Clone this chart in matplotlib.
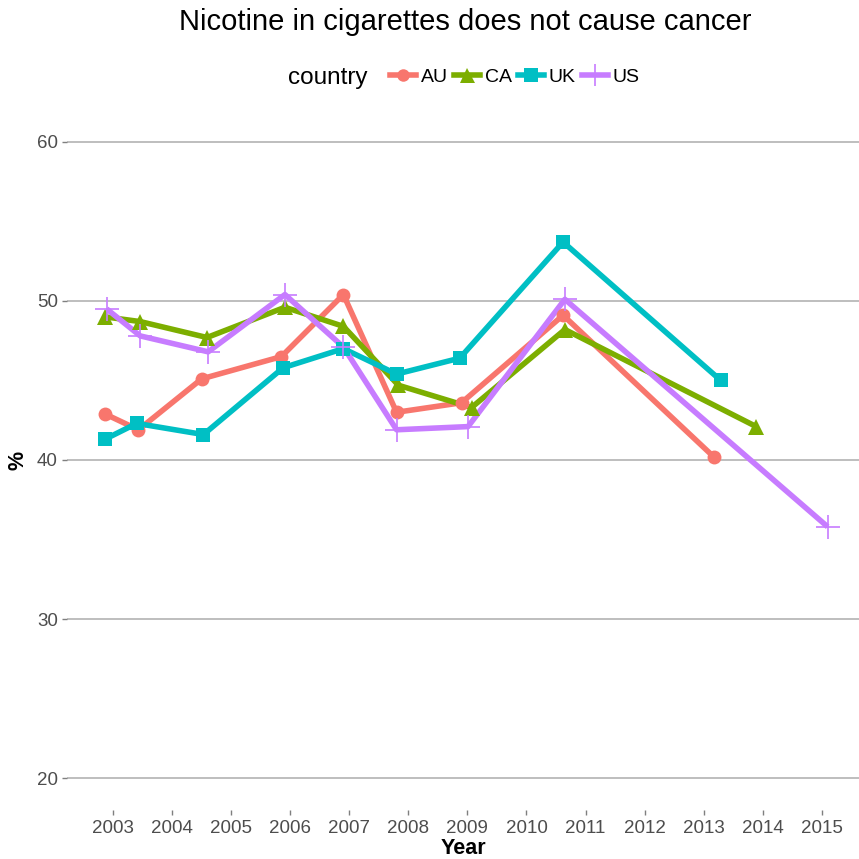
import matplotlib
matplotlib.use("Agg")
import matplotlib.pyplot as plt
from matplotlib.lines import Line2D

plt.rcParams['font.family'] = ['Liberation Sans', 'DejaVu Sans']

countries = ["AU", "CA", "UK", "US"]
colors = ["#F8766D", "#7CAE00", "#00BFC4", "#C77CFF"]
markers = ["o", "^", "s", "+"]
msizes = [10, 12, 10.5, 17]

au_year = [2002.86, 2003.43, 2004.50, 2005.85, 2006.90, 2007.80, 2008.90, 2010.62, 2013.17]
au_val = [42.9, 41.9, 45.1, 46.5, 50.4, 43.0, 43.6, 49.1, 40.2]
ca_year = [2002.86, 2003.46, 2004.59, 2005.91, 2006.90, 2007.83, 2009.07, 2010.65, 2013.89]
ca_val = [49.0, 48.7, 47.7, 49.6, 48.4, 44.7, 43.3, 48.2, 42.1]
uk_year = [2002.86, 2003.40, 2004.53, 2005.88, 2006.90, 2007.80, 2008.87, 2010.62, 2013.29]
uk_val = [41.3, 42.3, 41.6, 45.8, 47.0, 45.4, 46.4, 53.7, 45.0]
us_year = [2002.89, 2003.46, 2004.61, 2005.91, 2006.90, 2007.80, 2009.01, 2010.65, 2015.10]
us_val = [49.5, 47.8, 46.8, 50.4, 47.1, 41.9, 42.1, 50.1, 35.8]

years = [au_year, ca_year, uk_year, us_year]
vals = [au_val, ca_val, uk_val, us_val]

xticks = list(range(2003, 2016))
yticks = [20, 30, 40, 50, 60]

W = 859
fig = plt.figure(figsize=(8.59, 8.59), dpi=100)
ax = fig.add_axes([67 / W, 49 / W, 792 / W, 700 / W])

for y in yticks:
    ax.axhline(y, color="#BEBEBE", lw=1.4, zorder=0)

# lines first, then points on top (like ggplot layers)
for x, v, c in zip(years, vals, colors):
    ax.plot(x, v, color=c, lw=4, solid_capstyle="butt", zorder=2)
for x, v, c, m, ms in zip(years, vals, colors, markers, msizes):
    mew = 1.2 if m == "+" else 0
    ax.plot(x, v, ls="none", marker=m, ms=ms, color=c, mew=mew, zorder=3)

ax.set_xlim(2002.22, 2015.63)
ax.set_ylim(18, 62)
ax.set_xticks(xticks)
ax.set_yticks(yticks)
for s in ax.spines.values():
    s.set_visible(False)
ax.tick_params(axis="both", colors="#7F7F7F", labelcolor="#4D4D4D",
               labelsize=13.5, length=3.5, width=1)
ax.tick_params(axis="x", pad=4)
ax.tick_params(axis="y", pad=3)

fig.text(465 / W, 1 - 22 / W, "Nicotine in cigarettes does not cause cancer",
         ha="center", va="center", fontsize=21)
fig.text(463 / W, 1 - 849 / W, "Year", ha="center", va="center",
         fontsize=15.5, fontweight="bold")
fig.text(18 / W, 1 - 460 / W, "%", ha="center", va="center",
         fontsize=15.5, fontweight="bold", rotation=90)

# legend: title to the left, keys in one row
fig.text(288 / W, 1 - 78 / W, "country", ha="left", va="center", fontsize=17.5)
handles = [Line2D([], [], color=c, lw=4, marker=m, ms=ms * 0.9,
                  mew=(1.2 if m == "+" else 0))
           for c, m, ms in zip(colors, markers, msizes)]
fig.legend(handles, countries, loc="center left",
           bbox_to_anchor=(380 / W, 1 - 77 / W), ncol=4, frameon=False,
           fontsize=14, handlelength=1.35, handletextpad=0.25,
           columnspacing=0.3, borderpad=0)

fig.savefig("out.png", dpi=100)
